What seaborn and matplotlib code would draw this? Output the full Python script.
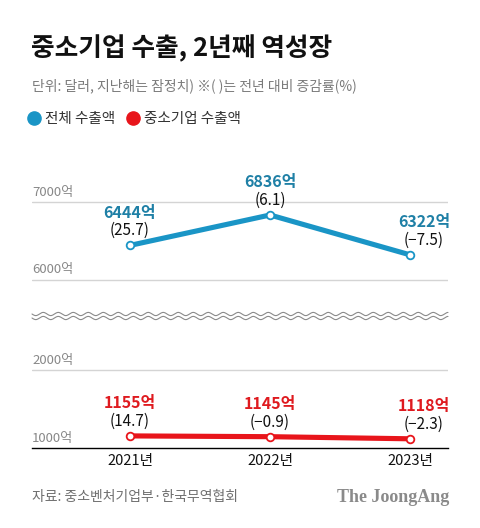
import numpy as np
import pandas as pd
import seaborn as sns
import matplotlib.pyplot as plt
from matplotlib.lines import Line2D

sns.set_style("white")
plt.rcParams['font.family'] = ['Noto Sans CJK KR', 'DejaVu Sans']

years = ["2021년", "2022년", "2023년"]
total_export = [6444, 6836, 6322]
total_change = ["(25.7)", "(6.1)", "(−7.5)"]
sme_export = [1155, 1145, 1118]
sme_change = ["(14.7)", "(−0.9)", "(−2.3)"]

BLUE = "#1a95c6"
BLUE_TXT = "#1f80a6"
RED = "#e8151b"
RED_TXT = "#df1a1f"
GREY = "#888888"

W, H = 480, 528
def fx(x): return x / W
def fy(y): return 1 - y / H

df = pd.DataFrame({
    "x": [0, 1, 2] * 2,
    "value": total_export + sme_export,
    "series": ["전체 수출액"] * 3 + ["중소기업 수출액"] * 3,
})

fig = plt.figure(figsize=(4.8, 5.28), dpi=100)

# upper panel (전체)
ax1 = fig.add_axes([fx(32), fy(300), fx(448) - fx(32), fy(170) - fy(300)])
# lower panel (중소기업)
ax2 = fig.add_axes([fx(32), fy(448), fx(448) - fx(32), fy(350) - fy(448)])

xlim = (-0.7, 2.271)
for ax, sub, color, lo, hi, ticks in [
    (ax1, df[df.series == "전체 수출액"], BLUE, 5740, 7416, [6000, 7000]),
    (ax2, df[df.series == "중소기업 수출액"], RED, 1000, 2256, [1000, 2000]),
]:
    sns.lineplot(data=sub, x="x", y="value", ax=ax, color=color, lw=3.7,
                 marker="o", ms=5.5, mfc="white", mec=color, mew=1.3,
                 zorder=3, legend=False)
    ax.set_xlim(*xlim)
    ax.set_ylim(lo, hi)
    ax.set_yticks(ticks)
    ax.set_yticklabels([])
    ax.tick_params(axis="y", length=0)
    ax.yaxis.grid(True, color="#d4d4d4", lw=1)
    ax.set_xlabel("")
    ax.set_ylabel("")
    for s in ax.spines.values():
        s.set_visible(False)
    for t in ticks:
        ax.annotate(f"{t}억", (xlim[0], t), xytext=(0, 2.5), textcoords="offset points",
                    ha="left", va="bottom", fontsize=9.5, color=GREY)

ax1.set_xticks([])
ax2.set_xticks([0, 1, 2])
ax2.set_xticklabels(years, fontsize=10.5, color="#111111")
ax2.spines["bottom"].set_visible(True)
ax2.spines["bottom"].set_color("black")
ax2.spines["bottom"].set_linewidth(1)
ax2.tick_params(axis="x", direction="in", length=8, width=0.8, color="black", pad=4)
ax2.yaxis.grid(True, color="#d4d4d4", lw=1)
ax2.get_ygridlines()[0].set_visible(False)

def labels(ax, vals, changes, txtcol):
    for i, (v, c) in enumerate(zip(vals, changes)):
        dx = 10 if i == 2 else 0
        ax.annotate(f"{v}억", (i, v), xytext=(dx, 23.5), textcoords="offset points",
                    ha="center", va="center", fontsize=11.5, fontweight="bold", color=txtcol)
        ax.annotate(c, (i, v), xytext=(dx, 10.5), textcoords="offset points",
                    ha="center", va="center", fontsize=11, color="#111111")

labels(ax1, total_export, total_change, BLUE_TXT)
labels(ax2, sme_export, sme_change, RED_TXT)

# axis break waves
xs = np.linspace(32, 448, 600)
for y0 in (314, 318):
    ys = y0 + 1.6 * np.sin((xs - 32) / 15 * 2 * np.pi)
    fig.add_artist(Line2D(fx(xs), fy(ys), color="#8a8a8a", lw=0.8))

fig.text(fx(31), fy(49), "중소기업 수출, 2년째 역성장", fontsize=18.5, fontweight="bold",
         color="#111111", va="center", ha="left")
fig.text(fx(32), fy(86), "단위: 달러, 지난해는 잠정치) ※( )는 전년 대비 증감률(%)",
         fontsize=10, color="#7a7a7a", va="center", ha="left")

handles = [Line2D([], [], marker="o", ls="", ms=9.5, color=BLUE),
           Line2D([], [], marker="o", ls="", ms=9.5, color=RED)]
fig.legend(handles, ["전체 수출액", "중소기업 수출액"], loc="center left",
           bbox_to_anchor=(fx(27), fy(119)), ncol=2, frameon=False,
           handletextpad=0.25, columnspacing=0.7, handlelength=1.0,
           fontsize=10.5, labelcolor="#333333", borderaxespad=0, borderpad=0)

fig.text(fx(32), fy(497), "자료: 중소벤처기업부·한국무역협회", fontsize=10,
         color="#6f6f6f", va="center", ha="left")
fig.text(fx(449), fy(497), "The JoongAng", fontsize=13, fontweight="bold",
         family="Liberation Serif", color="#8a8a8a", va="center", ha="right")

fig.savefig("out.png", dpi=100)
